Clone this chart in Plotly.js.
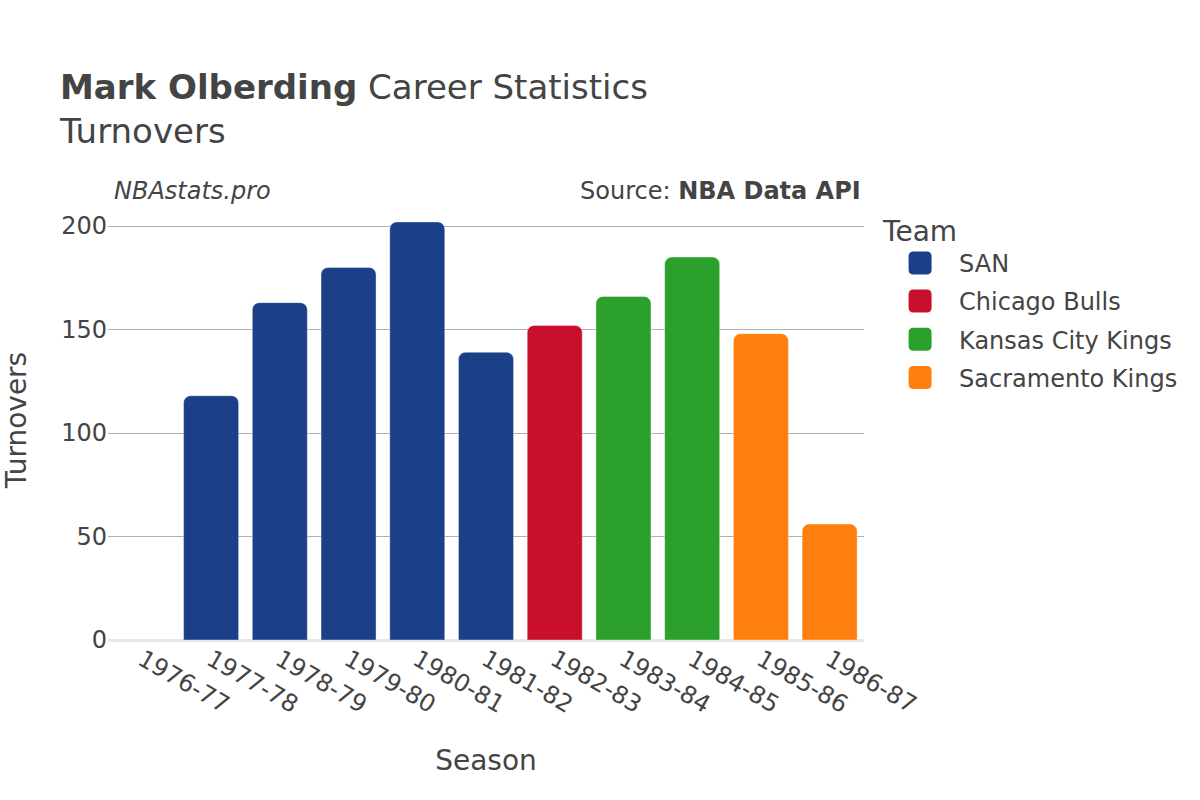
<!DOCTYPE html>
<html>
<head>
<meta charset="utf-8">
<script src="https://cdn.plot.ly/plotly-3.0.1.min.js"></script>
<style>html,body{margin:0;padding:0;background:#fff;}</style>
</head>
<body>
<div id="chart" style="width:1200px;height:800px;"></div>
<script>
const seasons = ["1976-77","1977-78","1978-79","1979-80","1980-81","1981-82","1982-83","1983-84","1984-85","1985-86","1986-87"];
const teams = ["SAN","Chicago Bulls","Kansas City Kings","Sacramento Kings"];
const teamColors = ["#1c4088","#c8102e","#2ca02c","#ff7f0e"];
const sanSeasons = ["1976-77","1977-78","1978-79","1979-80","1980-81","1981-82"];
const sanTurnovers = [null,118,163,180,202,139];
const chiSeasons = ["1982-83"];
const chiTurnovers = [152];
const kckSeasons = ["1983-84","1984-85"];
const kckTurnovers = [166,185];
const sacSeasons = ["1985-86","1986-87"];
const sacTurnovers = [148,56];

const xs = [sanSeasons, chiSeasons, kckSeasons, sacSeasons];
const ys = [sanTurnovers, chiTurnovers, kckTurnovers, sacTurnovers];

const traces = teams.map((t,i)=>({
  type:'bar', name:t, x:xs[i], y:ys[i], legendgroup:'g'+i,
  marker:{color:teamColors[i], line:{color:'rgba(255,255,255,0.35)', width:1}},
  hovertemplate:'%{x}: %{y}<extra>'+t+'</extra>'
}));

const font = "'DejaVu Sans', sans-serif";
const layout = {
  width:1200, height:800,
  paper_bgcolor:'#fff', plot_bgcolor:'#fff',
  font:{family:font, color:'#444', size:24},
  margin:{l:108, r:336, t:200, b:160},
  barmode:'relative',
  bargap:0.2,
  barcornerradius:7,
  title:{text:'<b>Mark Olberding</b> Career Statistics<br>Turnovers', x:0.05, xanchor:'left', y:0.876, yanchor:'top', font:{size:34, color:'#444'}},
  xaxis:{
    type:'category', categoryorder:'array', categoryarray:seasons,
    tickangle:30, tickfont:{size:24},
    title:{text:'Season', font:{size:28}, standoff:32},
    showgrid:false
  },
  yaxis:{
    range:[0,212.6],
    tickvals:[0,50,100,150,200],
    tickfont:{size:24},
    title:{text:'Turnovers', font:{size:28}, standoff:26},
    gridcolor:'#b0b0b0', gridwidth:1,
    zeroline:true, zerolinecolor:'#e8e8e8', zerolinewidth:3
  },
  legend:{
    title:{text:'Team', font:{size:28}},
    x:1.0226, xanchor:'left', y:0.99, yanchor:'top',
    font:{size:24}, tracegroupgap:4, itemwidth:68, traceorder:'grouped'
  },
  annotations:[
    {text:'<i>NBAstats.pro</i>', xref:'paper', yref:'paper', x:0.005, y:0.985, xanchor:'left', yanchor:'bottom', showarrow:false, font:{size:24, color:'#444'}},
    {text:'Source: <b>NBA Data API</b>', xref:'paper', yref:'paper', x:0.9987, y:0.985, xanchor:'right', yanchor:'bottom', showarrow:false, font:{size:24, color:'#444'}}
  ]
};
Plotly.newPlot('chart', traces, layout, {displayModeBar:false}).then(function(gd){
  // enlarge legend swatches to rounded squares
  const s = 11.5, r = 5;
  const d = 'M'+(-s+r)+','+(-s)+'H'+(s-r)+'Q'+s+','+(-s)+' '+s+','+(-s+r)+'V'+(s-r)+'Q'+s+','+s+' '+(s-r)+','+s+'H'+(-s+r)+'Q'+(-s)+','+s+' '+(-s)+','+(s-r)+'V'+(-s+r)+'Q'+(-s)+','+(-s)+' '+(-s+r)+','+(-s)+'Z';
  gd.querySelectorAll('.legend .legendpoints path').forEach(function(p){ p.setAttribute('d', d); p.style.strokeWidth='0px'; });
});
</script>
</body>
</html>
